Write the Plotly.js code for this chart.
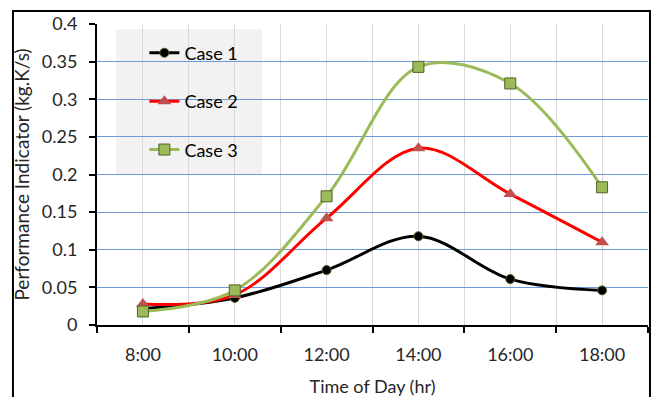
<!DOCTYPE html>
<html>
<head>
<meta charset="utf-8">
<script src="https://cdn.plot.ly/plotly-3.0.1.min.js"></script>
<style>
  html, body { margin: 0; padding: 0; background: #fff; }
  #chart { width: 655px; height: 397px; }
</style>
</head>
<body>
<div id="chart"></div>
<script>
// Hour of day for each sample and its tick label
const hours = [8, 10, 12, 14, 16, 18];
const hourLabels = ['8:00', '10:00', '12:00', '14:00', '16:00', '18:00'];

// Performance indicator (kg.K/s) per case
const case1 = [0.022, 0.036, 0.073, 0.118, 0.061, 0.046];
const case2 = [0.028, 0.040, 0.142, 0.235, 0.174, 0.110];
const case3 = [0.018, 0.046, 0.171, 0.343, 0.321, 0.183];

const seriesNames = ['Case 1', 'Case 2', 'Case 3'];

const FONT = 'Lato, "Liberation Sans", sans-serif';
const TEXT = '#262626';

const traces = [
  {
    x: hours, y: case1, name: seriesNames[0], legendgroup: 'g1',
    mode: 'lines+markers', type: 'scatter',
    line: { color: '#000000', width: 3, shape: 'spline', smoothing: 1 },
    marker: { symbol: 'circle', size: 9, color: '#000000', line: { color: '#4F6228', width: 1 } }
  },
  {
    x: hours, y: case2, name: seriesNames[1], legendgroup: 'g2',
    mode: 'lines+markers', type: 'scatter',
    line: { color: '#FF0000', width: 3, shape: 'spline', smoothing: 1 },
    marker: { symbol: 'triangle-up', size: 12, color: '#C0504D', line: { color: '#C0504D', width: 0 } }
  },
  {
    x: hours, y: case3, name: seriesNames[2], legendgroup: 'g3',
    mode: 'lines+markers', type: 'scatter',
    line: { color: '#9BBB59', width: 3, shape: 'spline', smoothing: 1 },
    marker: { symbol: 'square', size: 11, color: '#9BBB59', line: { color: '#4F6228', width: 1 } }
  }
];

const layout = {
  width: 655, height: 397,
  margin: { l: 97, r: 7, t: 24, b: 72 },
  paper_bgcolor: '#ffffff',
  plot_bgcolor: '#ffffff',
  font: { family: FONT, size: 18, color: TEXT },
  showlegend: true,
  legend: {
    x: 0.086, y: 0.965, xanchor: 'left', yanchor: 'top',
    bgcolor: 'rgba(0,0,0,0)', borderwidth: 0,
    font: { family: FONT, size: 18, color: '#000000' },
    tracegroupgap: 22, traceorder: 'grouped'
  },
  xaxis: {
    type: 'linear', range: [7, 19],
    tickvals: hours, ticktext: hourLabels,
    ticks: '', showgrid: true, gridcolor: '#D9D9D9', gridwidth: 1,
    minor: { tick0: 7, dtick: 2, ticks: 'outside', ticklen: 6, tickwidth: 2, tickcolor: '#000',
             showgrid: true, gridcolor: '#D9D9D9', gridwidth: 1 },
    showline: true, linecolor: '#000000', linewidth: 2,
    zeroline: false,
    ticklabelstandoff: 12,
    tickfont: { family: FONT, size: 18, color: TEXT },
    title: { text: 'Time of Day (hr)', font: { family: FONT, size: 18, color: TEXT }, standoff: 18 }
  },
  yaxis: {
    range: [0, 0.4], dtick: 0.05, tick0: 0,
    ticks: 'outside', ticklen: 6, tickwidth: 2, tickcolor: '#000',
    showgrid: true, gridcolor: '#6E9AD8', gridwidth: 1,
    showline: true, linecolor: '#000000', linewidth: 2,
    zeroline: false,
    ticklabelstandoff: 8,
    tickfont: { family: FONT, size: 18, color: TEXT },
    title: { text: 'Performance Indicator (kg.K/s)', font: { family: FONT, size: 19, color: TEXT }, standoff: 7 }
  },
  shapes: [
    // legend panel
    { type: 'rect', xref: 'paper', yref: 'paper', layer: 'between',
      x0: 0.0345, x1: 0.2995, y0: 0.5, y1: 0.983,
      fillcolor: '#F2F2F2', line: { width: 0 } },
    // outer chart frame
    { type: 'rect', xref: 'paper', yref: 'paper', layer: 'above',
      x0: -0.1525, x1: 1.0036, y0: -0.26, y1: 1.043,
      fillcolor: 'rgba(0,0,0,0)', line: { color: '#000000', width: 2 } }
  ]
};

Plotly.newPlot('chart', traces, layout, { displayModeBar: false, staticPlot: true });
</script>
</body>
</html>
